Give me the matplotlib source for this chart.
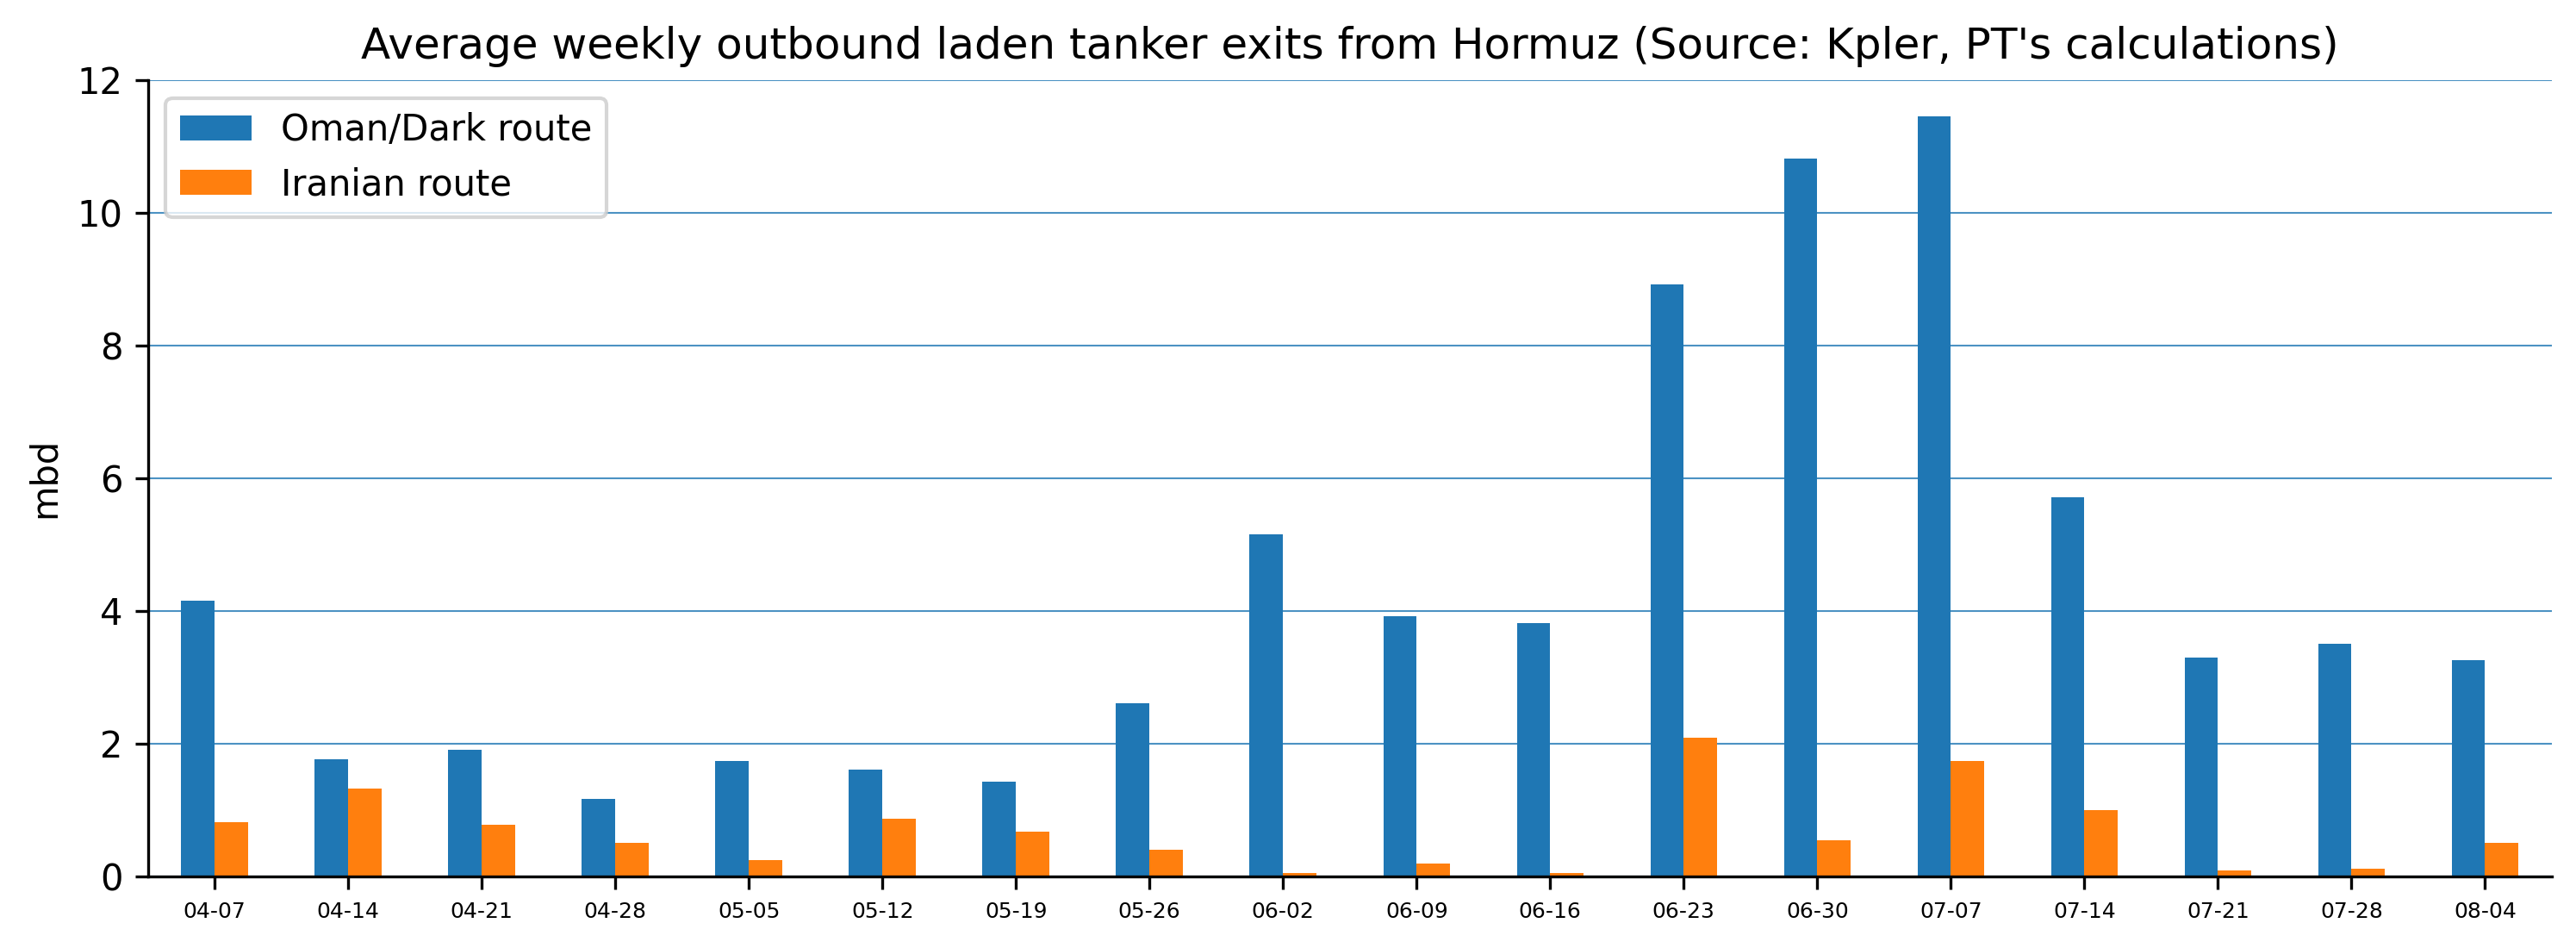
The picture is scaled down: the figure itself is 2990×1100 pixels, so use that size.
import numpy as np
import pandas as pd
import matplotlib
matplotlib.use("Agg")
import matplotlib.pyplot as plt

# Weekly averages, mbd
weeks = ["04-07", "04-14", "04-21", "04-28", "05-05", "05-12", "05-19", "05-26",
         "06-02", "06-09", "06-16", "06-23", "06-30", "07-07", "07-14", "07-21",
         "07-28", "08-04"]
oman_dark = [4.15, 1.76, 1.91, 1.17, 1.73, 1.61, 1.42, 2.61,
             5.15, 3.92, 3.81, 8.92, 10.82, 11.45, 5.71, 3.29,
             3.50, 3.25]
iranian = [0.81, 1.32, 0.77, 0.50, 0.24, 0.87, 0.67, 0.40,
           0.05, 0.19, 0.05, 2.09, 0.54, 1.73, 0.99, 0.08,
           0.11, 0.50]

df = pd.DataFrame({"Oman/Dark route": oman_dark, "Iranian route": iranian}, index=weeks)

fig, ax = plt.subplots(figsize=(2990 / 300, 1100 / 300), dpi=300)
df.plot.bar(ax=ax, rot=0)

ax.set_title("Average weekly outbound laden tanker exits from Hormuz (Source: Kpler, PT's calculations)")
ax.set_ylabel("mbd")
ax.set_ylim(0, 12)
ax.tick_params(axis="x", labelsize=6)
ax.grid(axis="y", color="tab:blue", linewidth=0.5, alpha=0.8)
ax.set_axisbelow(True)
ax.spines["top"].set_visible(False)
ax.spines["right"].set_visible(False)
ax.legend(loc="upper left")

plt.subplots_adjust(left=0.0574, right=0.9906, top=0.9155, bottom=0.0758)
plt.savefig("out.png", dpi=300)
